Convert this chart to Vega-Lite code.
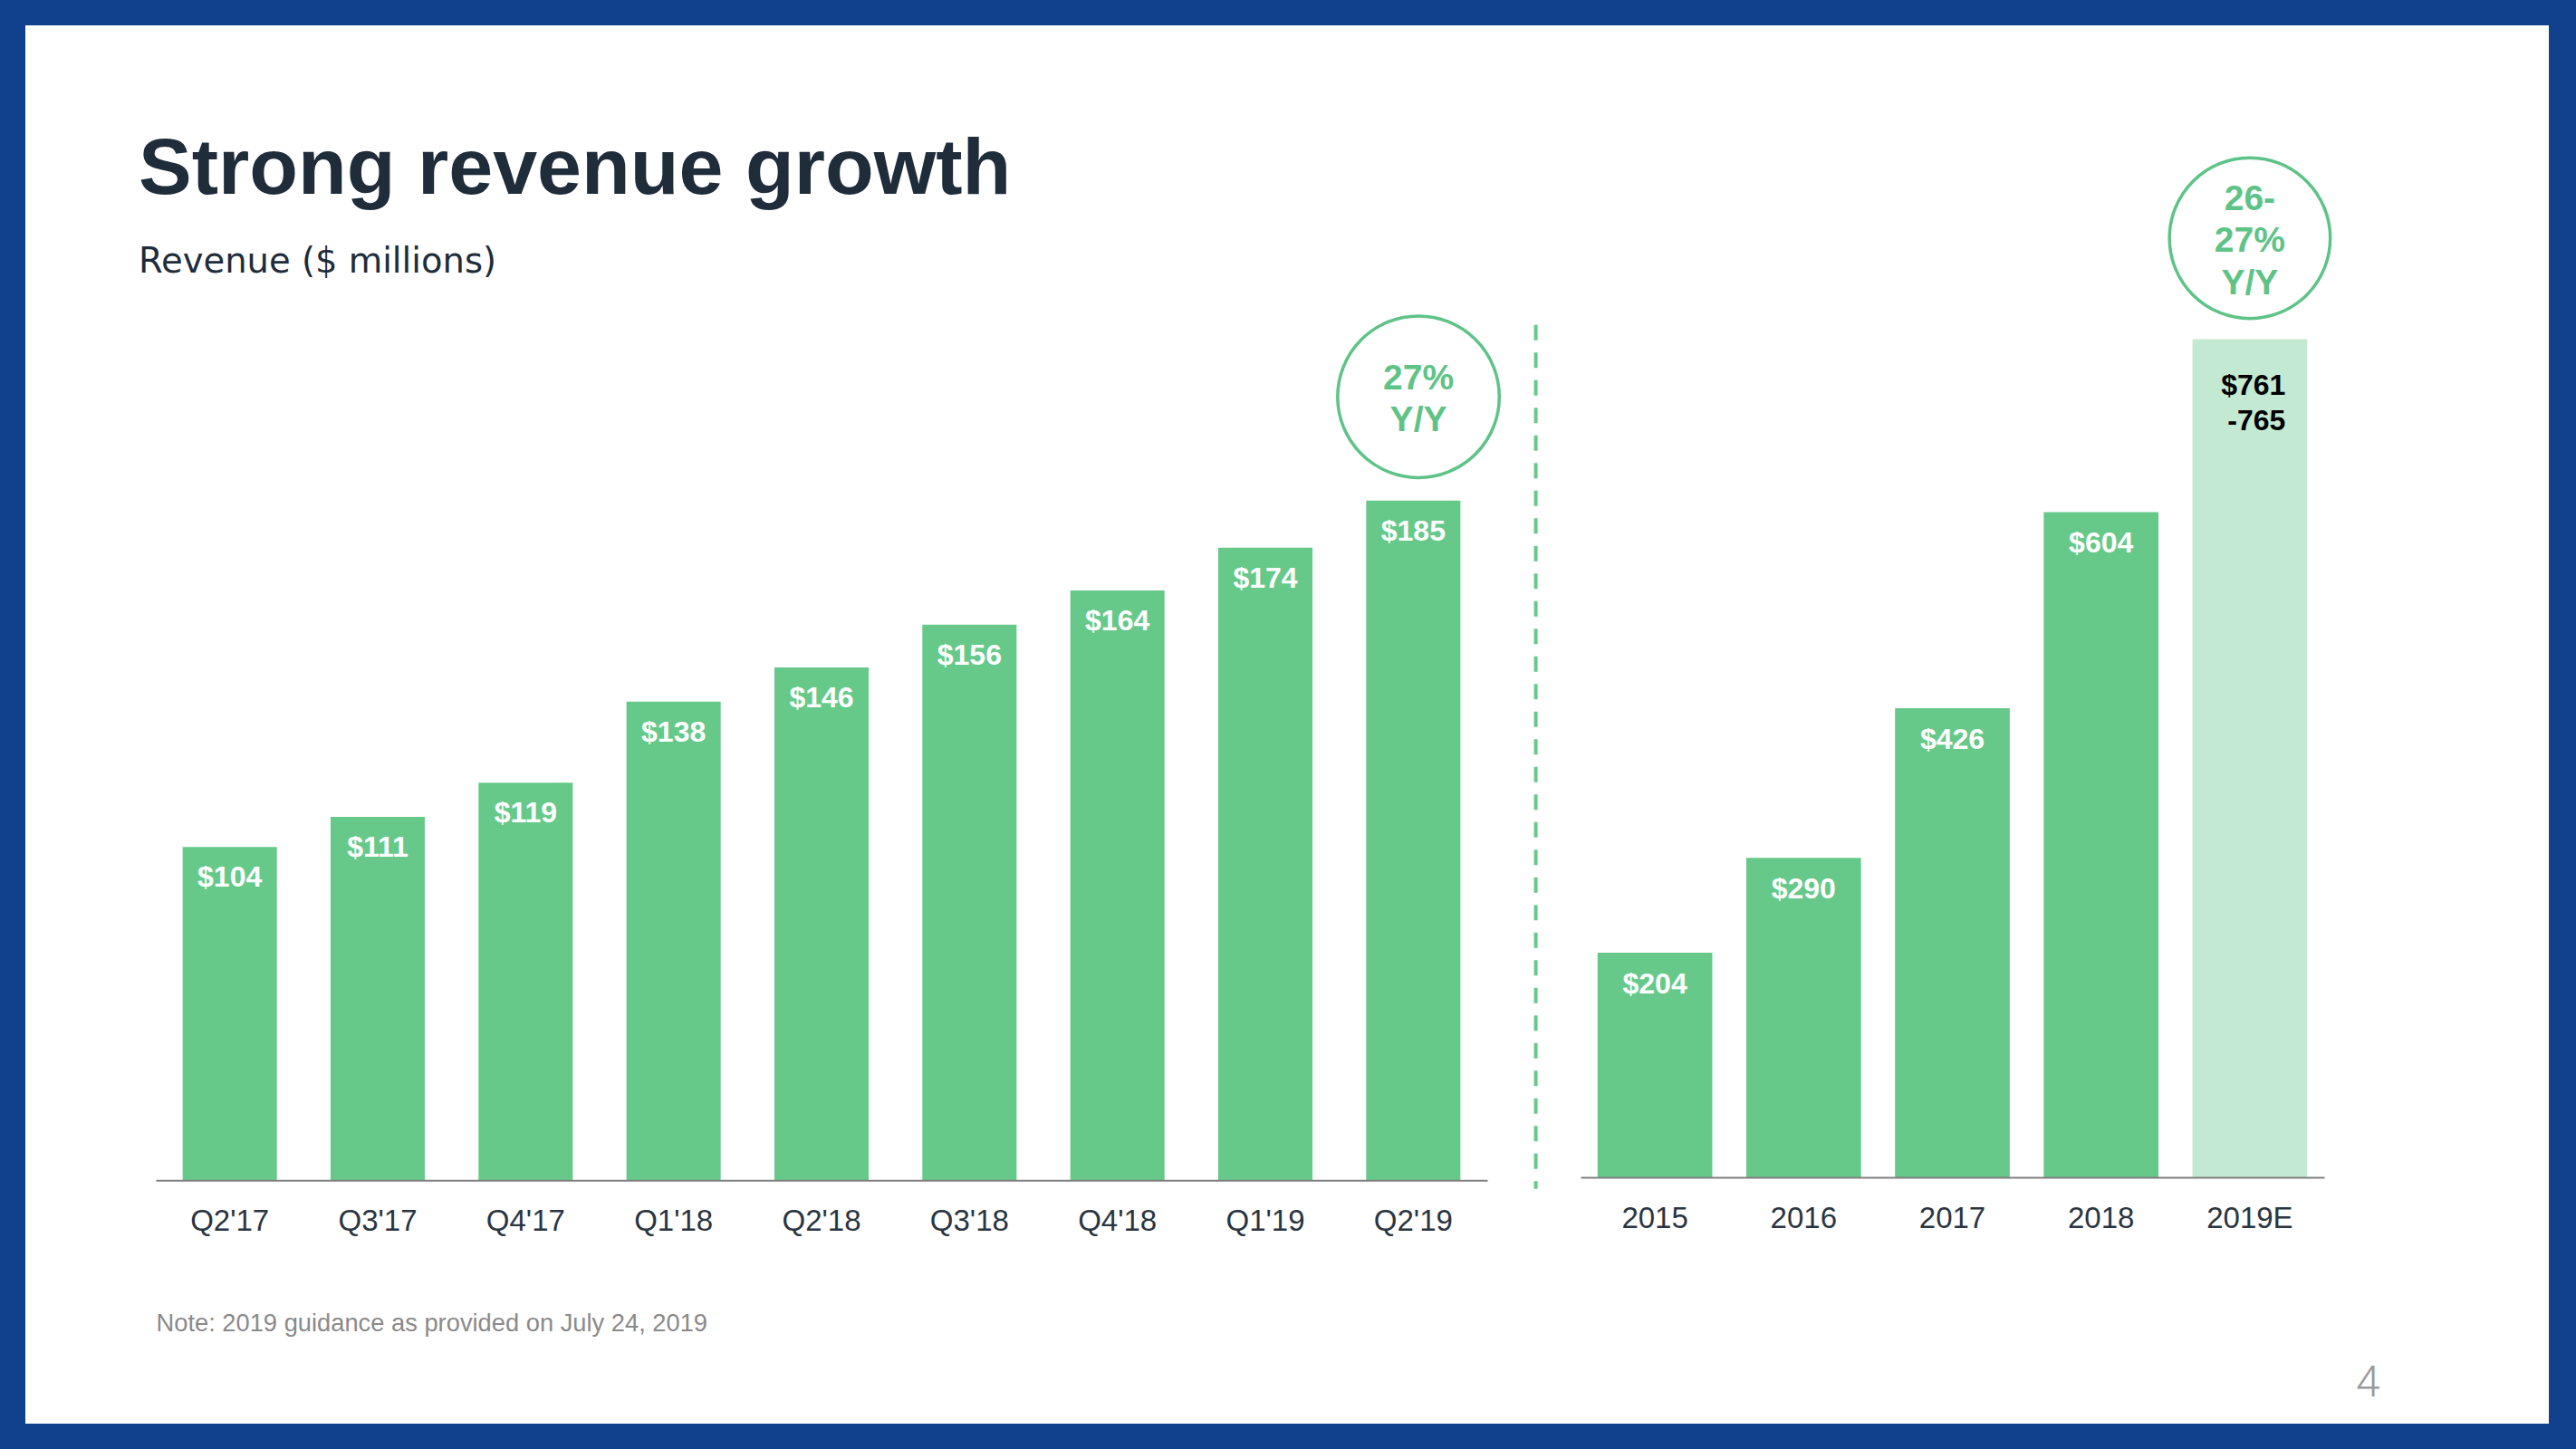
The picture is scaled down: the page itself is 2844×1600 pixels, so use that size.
{
  "$schema": "https://vega.github.io/schema/vega-lite/v6.json",
  "width": 2844,
  "height": 1600,
  "autosize": {"type": "fit", "contains": "padding"},
  "padding": {"left": 28, "top": 28, "right": 30, "bottom": 28},
  "background": "#11418c",
  "config": {
    "view": {"fill": "#ffffff", "stroke": null},
    "font": "Liberation Sans"
  },
  "title": {
    "text": "Strong revenue growth",
    "subtitle": "Revenue ($ millions)",
    "anchor": "start",
    "frame": "group",
    "offset": -280.1,
    "dx": 125,
    "font": "Liberation Sans",
    "fontSize": 88,
    "fontWeight": "bold",
    "color": "#1f2c3a",
    "subtitleFont": "DejaVu Sans",
    "subtitleFontSize": 38.5,
    "subtitleFontWeight": "normal",
    "subtitleColor": "#1f2c3a",
    "subtitlePadding": 39.1
  },
  "layer": [
    {
      "data": {
        "values": [
          {"period": "Q2'17", "revenue": 104, "label": "$104"},
          {"period": "Q3'17", "revenue": 111, "label": "$111"},
          {"period": "Q4'17", "revenue": 119, "label": "$119"},
          {"period": "Q1'18", "revenue": 138, "label": "$138"},
          {"period": "Q2'18", "revenue": 146, "label": "$146"},
          {"period": "Q3'18", "revenue": 156, "label": "$156"},
          {"period": "Q4'18", "revenue": 164, "label": "$164"},
          {"period": "Q1'19", "revenue": 174, "label": "$174"},
          {"period": "Q2'19", "revenue": 185, "label": "$185", "callout": "27%\nY/Y"}
        ]
      },
      "encoding": {
        "x": {
          "field": "period",
          "type": "nominal",
          "sort": null,
          "scale": {
            "domain": ["Q2'17", "Q3'17", "Q4'17", "Q1'18", "Q2'18", "Q3'18", "Q4'18", "Q1'19", "Q2'19"],
            "range": [144, 1614],
            "paddingInner": 0.363,
            "paddingOuter": 0.1815
          },
          "axis": {
            "orient": "bottom",
            "offset": -268.7,
            "zindex": 1,
            "domainColor": "#808080",
            "domainWidth": 2,
            "ticks": false,
            "tickSize": 0,
            "grid": false,
            "labelPadding": 29,
            "labelAngle": 0,
            "labelBaseline": "top",
            "labelFont": "Liberation Sans",
            "labelFontSize": 33,
            "labelFontWeight": "normal",
            "labelColor": "#2a3541",
            "title": "Note: 2019 guidance as provided on July 24, 2019",
            "titleAnchor": "start",
            "titleAlign": "left",
            "titleBaseline": "alphabetic",
            "titleY": 166,
            "titleFont": "Liberation Sans",
            "titleFontSize": 27.3,
            "titleFontWeight": "normal",
            "titleColor": "#8a8a8a"
          }
        },
        "y": {
          "field": "revenue",
          "type": "quantitative",
          "scale": {"domain": [26, 296.2], "range": [1275.3, 0], "zero": false, "nice": false},
          "axis": null
        }
      },
      "layer": [
        {
          "mark": {"type": "bar", "color": "#66c98a"},
          "encoding": {"y2": {"datum": 26}}
        },
        {
          "mark": {"type": "text", "color": "#ffffff", "fontSize": 32, "fontWeight": "bold", "baseline": "alphabetic", "dy": 44},
          "encoding": {"text": {"field": "label"}}
        },
        {
          "transform": [{"filter": "isValid(datum.callout)"}],
          "mark": {"type": "rule", "color": "#66c98a", "strokeWidth": 4, "strokeDash": [17, 13.5]},
          "encoding": {
            "x": {"datum": "Q2'19", "bandPosition": 1.8},
            "y": {"datum": 226.1},
            "y2": {"datum": 24.0}
          }
        },
        {
          "transform": [{"filter": "isValid(datum.callout)"}],
          "mark": {"type": "point", "shape": "circle", "filled": false, "size": 31862, "strokeWidth": 3.5, "color": "#5fc387", "opacity": 1},
          "encoding": {
            "x": {"field": "period", "type": "nominal", "bandPosition": 0.555},
            "y": {"datum": 209.3}
          }
        },
        {
          "transform": [{"filter": "isValid(datum.callout)"}],
          "mark": {"type": "text", "color": "#5fc387", "fontSize": 39, "fontWeight": "bold", "lineBreak": "\n", "lineHeight": 46.5, "baseline": "alphabetic", "dy": -8.5},
          "encoding": {
            "x": {"field": "period", "type": "nominal", "bandPosition": 0.555},
            "y": {"datum": 209.3},
            "text": {"field": "callout"}
          }
        }
      ]
    },
    {
      "data": {
        "values": [
          {"year": "2015", "revenue": 204, "label": "$204", "kind": "actual"},
          {"year": "2016", "revenue": 290, "label": "$290", "kind": "actual"},
          {"year": "2017", "revenue": 426, "label": "$426", "kind": "actual"},
          {"year": "2018", "revenue": 604, "label": "$604", "kind": "actual"},
          {"year": "2019E", "revenue": 761, "label": "$761\n-765", "kind": "estimate", "callout": "26-\n27%\nY/Y"}
        ]
      },
      "encoding": {
        "x": {
          "field": "year",
          "type": "nominal",
          "sort": null,
          "scale": {
            "domain": ["2015", "2016", "2017", "2018", "2019E"],
            "range": [1717, 2538],
            "paddingInner": 0.2284,
            "paddingOuter": 0.1142
          },
          "axis": {
            "orient": "bottom",
            "offset": -272,
            "zindex": 1,
            "domainColor": "#808080",
            "domainWidth": 2,
            "ticks": false,
            "tickSize": 0,
            "grid": false,
            "labelPadding": 29,
            "labelAngle": 0,
            "labelBaseline": "top",
            "labelFont": "Liberation Sans",
            "labelFontSize": 33,
            "labelFontWeight": "normal",
            "labelColor": "#2a3541",
            "title": "4",
            "titleAnchor": "end",
            "titleAlign": "right",
            "titleBaseline": "alphabetic",
            "titleX": 2599,
            "titleY": 241.7,
            "titleFont": "Roboto",
            "titleFontSize": 48,
            "titleFontWeight": 300,
            "titleColor": "#9a9a9a"
          }
        },
        "y": {
          "field": "revenue",
          "type": "quantitative",
          "scale": {"domain": [0, 1046], "range": [1272, 0], "nice": false},
          "axis": null
        }
      },
      "layer": [
        {
          "mark": {"type": "bar"},
          "encoding": {
            "color": {
              "field": "kind",
              "type": "nominal",
              "scale": {"domain": ["actual", "estimate"], "range": ["#66c98a", "#c3e9d2"]},
              "legend": null
            }
          }
        },
        {
          "transform": [{"filter": "datum.kind === 'actual'"}],
          "mark": {"type": "text", "color": "#ffffff", "fontSize": 32, "fontWeight": "bold", "baseline": "alphabetic", "dy": 45},
          "encoding": {"text": {"field": "label"}}
        },
        {
          "transform": [{"filter": "datum.kind === 'estimate'"}],
          "mark": {"type": "text", "color": "#000000", "fontSize": 32, "fontWeight": "bold", "baseline": "alphabetic", "align": "right", "dx": 39.5, "dy": 61, "lineBreak": "\n", "lineHeight": 39},
          "encoding": {"text": {"field": "label"}}
        },
        {
          "transform": [{"filter": "isValid(datum.callout)"}],
          "mark": {"type": "point", "shape": "circle", "filled": false, "size": 31506, "strokeWidth": 3.5, "color": "#5fc387", "opacity": 1},
          "encoding": {"y": {"datum": 852.8}}
        },
        {
          "transform": [{"filter": "isValid(datum.callout)"}],
          "mark": {"type": "text", "color": "#5fc387", "fontSize": 39, "fontWeight": "bold", "lineBreak": "\n", "lineHeight": 46.5, "baseline": "alphabetic", "dy": -31},
          "encoding": {
            "y": {"datum": 852.8},
            "text": {"field": "callout"}
          }
        }
      ]
    }
  ],
  "resolve": {
    "scale": {"x": "independent", "y": "independent"},
    "axis": {"x": "independent", "y": "independent"}
  }
}
